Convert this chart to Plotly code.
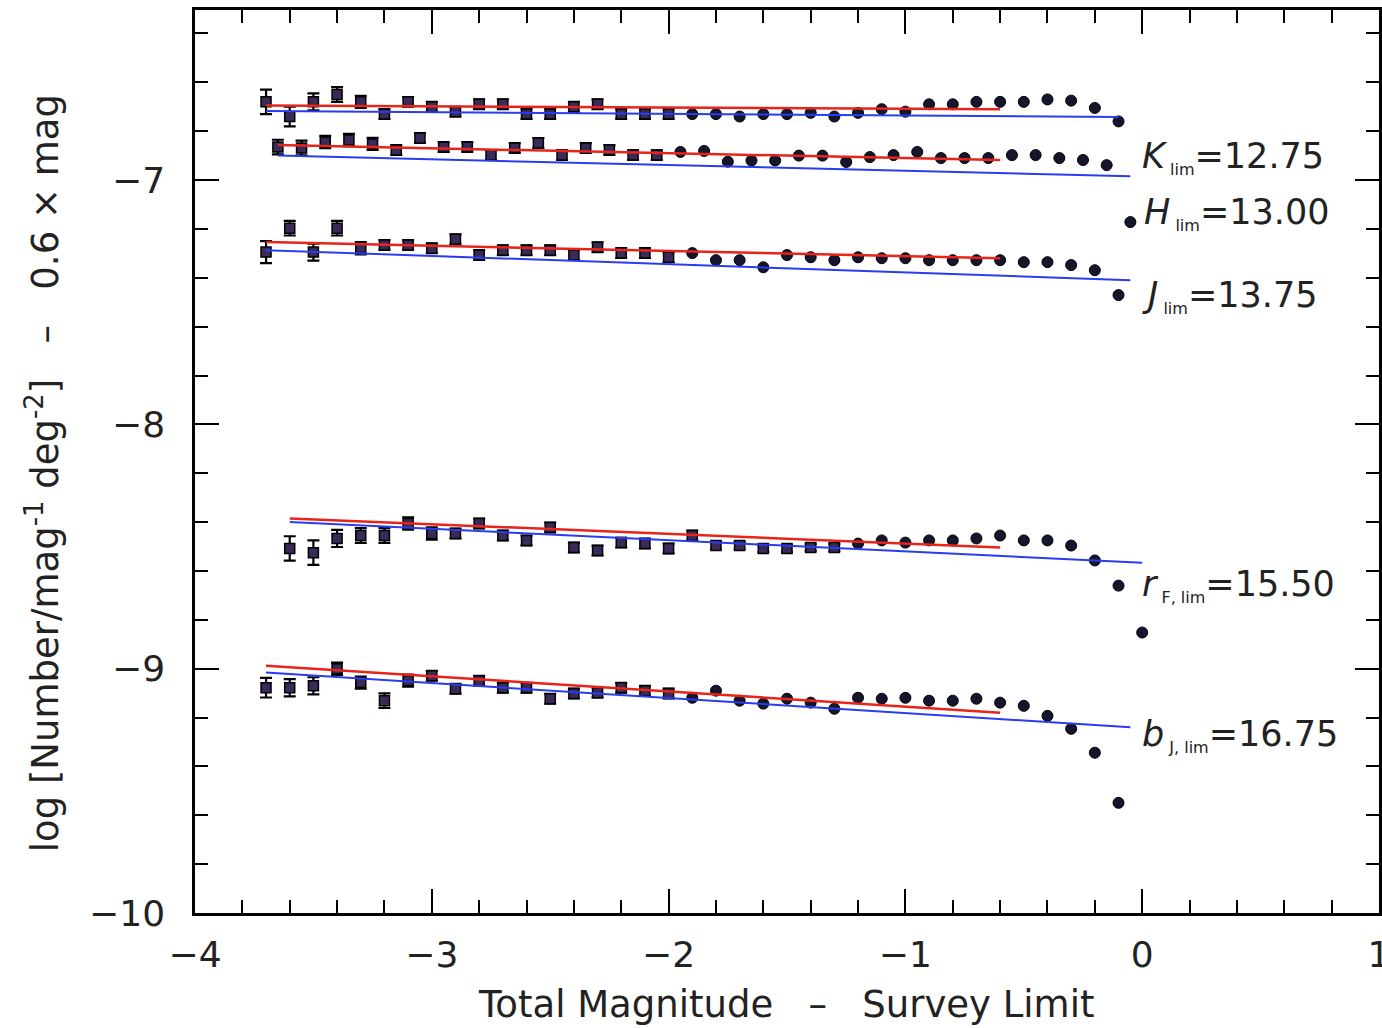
import plotly.graph_objects as go

# ---------------- data ----------------
K_xb = [-3.7, -3.6, -3.5, -3.4, -3.3, -3.2, -3.1, -3.0, -2.9, -2.8, -2.7, -2.6, -2.5, -2.4, -2.3, -2.2, -2.1, -2.0]
K_yb = [-6.68, -6.74, -6.68, -6.65, -6.68, -6.73, -6.68, -6.70, -6.72, -6.69, -6.69, -6.73, -6.73, -6.70, -6.69, -6.73, -6.73, -6.73]
K_eb = [0.05, 0.04, 0.035, 0.03, 0.025, 0.02, 0.02, 0.02, 0.02, 0.02, 0.02, 0.02, 0.02, 0.02, 0.02, 0.02, 0.02, 0.02]
K_xd = [-1.9, -1.8, -1.7, -1.6, -1.5, -1.4, -1.3, -1.2, -1.1, -1.0, -0.9, -0.8, -0.7, -0.6, -0.5, -0.4, -0.3, -0.2, -0.1]
K_yd = [-6.73, -6.73, -6.74, -6.73, -6.73, -6.725, -6.74, -6.725, -6.71, -6.72, -6.69, -6.69, -6.68, -6.68, -6.68, -6.67, -6.675, -6.705, -6.76]

H_xb = [-3.65, -3.55, -3.45, -3.35, -3.25, -3.15, -3.05, -2.95, -2.85, -2.75, -2.65, -2.55, -2.45, -2.35, -2.25, -2.15, -2.05]
H_yb = [-6.865, -6.869, -6.844, -6.836, -6.852, -6.877, -6.828, -6.865, -6.865, -6.898, -6.869, -6.848, -6.898, -6.869, -6.877, -6.898, -6.898]
H_eb = [0.03, 0.03, 0.025, 0.025, 0.025, 0.02, 0.02, 0.02, 0.02, 0.02, 0.02, 0.02, 0.02, 0.02, 0.02, 0.02, 0.02]
H_xd = [-1.95, -1.85, -1.75, -1.65, -1.55, -1.45, -1.35, -1.25, -1.15, -1.05, -0.95, -0.85, -0.75, -0.65, -0.55, -0.45, -0.35, -0.25, -0.15, -0.05]
H_yd = [-6.885, -6.881, -6.925, -6.92, -6.92, -6.90, -6.90, -6.926, -6.906, -6.898, -6.885, -6.91, -6.91, -6.91, -6.898, -6.898, -6.91, -6.918, -6.939, -7.172]

J_xb = [-3.7, -3.6, -3.5, -3.4, -3.3, -3.2, -3.1, -3.0, -2.9, -2.8, -2.7, -2.6, -2.5, -2.4, -2.3, -2.2, -2.1, -2.0]
J_yb = [-7.295, -7.197, -7.295, -7.197, -7.279, -7.266, -7.266, -7.279, -7.242, -7.307, -7.287, -7.287, -7.287, -7.307, -7.275, -7.299, -7.299, -7.316]
J_eb = [0.045, 0.03, 0.035, 0.03, 0.025, 0.02, 0.02, 0.02, 0.02, 0.02, 0.02, 0.02, 0.02, 0.02, 0.02, 0.02, 0.02, 0.02]
J_xd = [-1.9, -1.8, -1.7, -1.6, -1.5, -1.4, -1.3, -1.2, -1.1, -1.0, -0.9, -0.8, -0.7, -0.6, -0.5, -0.4, -0.3, -0.2, -0.1]
J_yd = [-7.299, -7.328, -7.328, -7.357, -7.307, -7.316, -7.328, -7.316, -7.320, -7.320, -7.328, -7.328, -7.328, -7.328, -7.336, -7.336, -7.348, -7.369, -7.471]

R_xb = [-3.6, -3.5, -3.4, -3.3, -3.2, -3.1, -3.0, -2.9, -2.8, -2.7, -2.6, -2.5, -2.4, -2.3, -2.2, -2.1, -2.0, -1.9, -1.8, -1.7, -1.6, -1.5, -1.4, -1.3]
R_yb = [-8.508, -8.525, -8.467, -8.455, -8.455, -8.406, -8.447, -8.447, -8.406, -8.455, -8.475, -8.422, -8.504, -8.516, -8.484, -8.488, -8.508, -8.455, -8.496, -8.496, -8.508, -8.508, -8.504, -8.504]
R_eb = [0.05, 0.05, 0.035, 0.03, 0.03, 0.025, 0.025, 0.02, 0.02, 0.02, 0.02, 0.02, 0.02, 0.02, 0.02, 0.02, 0.02, 0.02, 0.015, 0.015, 0.015, 0.015, 0.015, 0.015]
R_xd = [-1.2, -1.1, -1.0, -0.9, -0.8, -0.7, -0.6, -0.5, -0.4, -0.3, -0.2, -0.1, 0.0]
R_yd = [-8.488, -8.475, -8.484, -8.475, -8.475, -8.467, -8.455, -8.475, -8.475, -8.496, -8.557, -8.660, -8.852]

B_xb = [-3.7, -3.6, -3.5, -3.4, -3.3, -3.2, -3.1, -3.0, -2.9, -2.8, -2.7, -2.6, -2.5, -2.4, -2.3, -2.2, -2.1, -2.0]
B_yb = [-9.078, -9.078, -9.070, -9.000, -9.057, -9.131, -9.049, -9.029, -9.082, -9.049, -9.078, -9.078, -9.123, -9.102, -9.098, -9.078, -9.090, -9.102]
B_eb = [0.04, 0.035, 0.035, 0.025, 0.025, 0.03, 0.025, 0.02, 0.02, 0.02, 0.02, 0.02, 0.02, 0.02, 0.02, 0.02, 0.02, 0.02]
B_xd = [-1.9, -1.8, -1.7, -1.6, -1.5, -1.4, -1.3, -1.2, -1.1, -1.0, -0.9, -0.8, -0.7, -0.6, -0.5, -0.4, -0.3, -0.2, -0.1]
B_yd = [-9.119, -9.090, -9.131, -9.143, -9.123, -9.139, -9.164, -9.119, -9.123, -9.119, -9.131, -9.131, -9.123, -9.139, -9.152, -9.193, -9.246, -9.344, -9.549]

# fit lines (endpoints)
K_red_x, K_red_y = [-3.7, -0.6], [-6.695, -6.71]
K_blue_x, K_blue_y = [-3.7, -0.1], [-6.717, -6.742]
H_red_x, H_red_y = [-3.65, -0.6], [-6.857, -6.918]
H_blue_x, H_blue_y = [-3.65, -0.05], [-6.90, -6.984]
J_red_x, J_red_y = [-3.7, -0.6], [-7.254, -7.32]
J_blue_x, J_blue_y = [-3.7, -0.05], [-7.287, -7.41]
R_red_x, R_red_y = [-3.6, -0.6], [-8.385, -8.504]
R_blue_x, R_blue_y = [-3.6, 0.0], [-8.40, -8.566]
B_red_x, B_red_y = [-3.7, -0.6], [-8.988, -9.18]
B_blue_x, B_blue_y = [-3.7, -0.05], [-9.016, -9.24]

labels = ["<i>K</i><sub><span style='font-size:16px'> lim</span></sub>=12.75",
          "<i>H</i><sub><span style='font-size:16px'> lim</span></sub>=13.00",
          "<i>J</i><sub><span style='font-size:16px'> lim</span></sub>=13.75",
          "<i>r</i><sub><span style='font-size:16px'> F, lim</span></sub>=15.50",
          "<i>b</i><sub><span style='font-size:16px'> J, lim</span></sub>=16.75"]
label_x = [-0.01, 0.0, -0.01, -0.01, -0.01]
label_y = [-6.906, -7.135, -7.475, -8.66, -9.275]

# ---------------- figure ----------------
FONT = "DejaVu Sans"
DOT = "#15152e"
RED = "#e8241a"
BLUE = "#2a3cf0"

fig = go.Figure()
series = [
    (K_xb, K_yb, K_eb, K_xd, K_yd, K_red_x, K_red_y, K_blue_x, K_blue_y),
    (H_xb, H_yb, H_eb, H_xd, H_yd, H_red_x, H_red_y, H_blue_x, H_blue_y),
    (J_xb, J_yb, J_eb, J_xd, J_yd, J_red_x, J_red_y, J_blue_x, J_blue_y),
    (R_xb, R_yb, R_eb, R_xd, R_yd, R_red_x, R_red_y, R_blue_x, R_blue_y),
    (B_xb, B_yb, B_eb, B_xd, B_yd, B_red_x, B_red_y, B_blue_x, B_blue_y),
]
for xb, yb, eb, xd, yd, rx, ry, bx, by in series:
    fig.add_trace(go.Scatter(x=xb, y=yb, mode="markers",
                             error_y=dict(type="data", array=eb, color="black", thickness=2.2, width=6),
                             marker=dict(symbol="square", size=10, color="#3a2a5a",
                                         line=dict(color="black", width=1.5)),
                             showlegend=False))
    fig.add_trace(go.Scatter(x=xd, y=yd, mode="markers",
                             marker=dict(symbol="circle", size=11, color=DOT,
                                         line=dict(color="black", width=1)),
                             showlegend=False))
    fig.add_trace(go.Scatter(x=rx, y=ry, mode="lines", line=dict(color=RED, width=2.5),
                             showlegend=False))
    fig.add_trace(go.Scatter(x=bx, y=by, mode="lines", line=dict(color=BLUE, width=2),
                             showlegend=False))

for t, lx, ly in zip(labels, label_x, label_y):
    fig.add_annotation(x=lx, y=ly, text=t, showarrow=False, xanchor="left", yanchor="middle",
                       font=dict(family=FONT, size=35, color="#222"))

fig.add_annotation(xref="paper", yref="paper", x=0.499, y=0.0, yshift=-91,
                   text="Total Magnitude   \u2013   Survey Limit", showarrow=False,
                   xanchor="center", yanchor="middle",
                   font=dict(family=FONT, size=37, color="#222"))
fig.add_annotation(xref="paper", yref="paper", x=0, xshift=-152, y=0.487,
                   text="log [Number/mag<sup>-1</sup> deg<sup>-2</sup>]   \u2013   0.6 \u00d7 mag",
                   textangle=-90, showarrow=False, xanchor="center", yanchor="middle",
                   font=dict(family=FONT, size=37, color="#222"))

axis_common = dict(showgrid=False, zeroline=False, showline=True, linecolor="black", linewidth=2.5,
                   mirror="allticks", ticks="inside", ticklen=24, tickwidth=2, tickcolor="black",
                   tickfont=dict(family=FONT, size=36, color="#222"))
fig.update_xaxes(range=[-4, 1], dtick=1, tick0=0, ticklabelstandoff=8, ticklabeloverflow="allow",
                 minor=dict(dtick=0.2, ticks="inside", ticklen=13, tickwidth=2, tickcolor="black"),
                 **axis_common)
fig.update_yaxes(range=[-10, -6.304], dtick=1, tick0=0, ticklabelstandoff=20,
                 minor=dict(dtick=0.2, ticks="inside", ticklen=13, tickwidth=2, tickcolor="black"),
                 **axis_common)

fig.update_layout(width=1382, height=1028,
                  margin=dict(l=195, r=3, t=10, b=115, autoexpand=False),
                  paper_bgcolor="white", plot_bgcolor="white", showlegend=False)

fig.write_html("out.html")
